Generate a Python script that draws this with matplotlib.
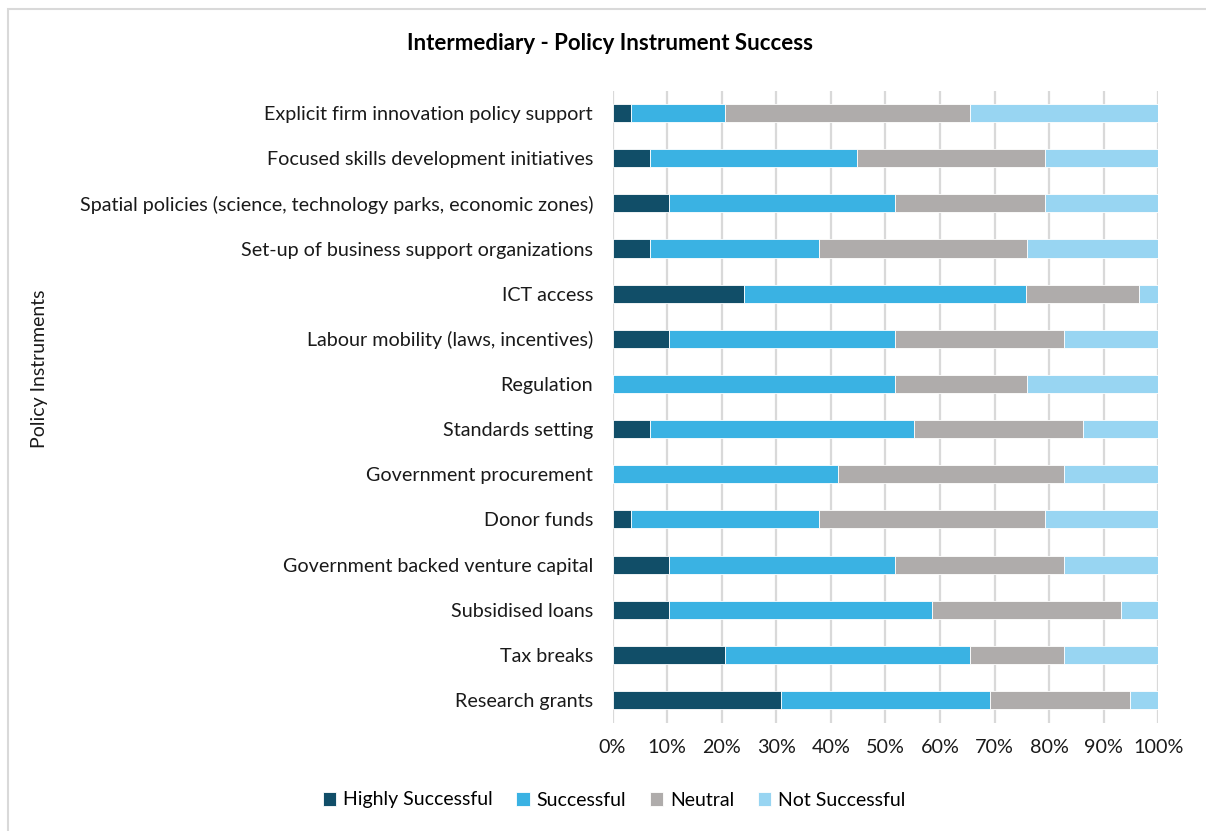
import matplotlib
matplotlib.use("Agg")
import matplotlib.pyplot as plt
from matplotlib.patches import Rectangle
from matplotlib.ticker import PercentFormatter
import numpy as np

plt.rcParams['font.family'] = ['Lato', 'DejaVu Sans']

# Categories listed bottom to top
instruments = [
    "Research grants",
    "Tax breaks",
    "Subsidised loans",
    "Government backed venture capital",
    "Donor funds",
    "Government procurement",
    "Standards setting",
    "Regulation",
    "Labour mobility (laws, incentives)",
    "ICT access",
    "Set-up of business support organizations",
    "Spatial policies (science, technology parks, economic zones)",
    "Focused skills development initiatives",
    "Explicit firm innovation policy support",
]

# Share of responses (%) per instrument, same order as above
highly_successful = [30.8, 20.7, 10.3, 10.3, 3.4, 0.0, 6.9, 0.0, 10.3, 24.1, 6.9, 10.3, 6.9, 3.4]
successful        = [38.4, 44.8, 48.3, 41.4, 34.5, 41.4, 48.3, 51.7, 41.4, 51.7, 31.0, 41.4, 37.9, 17.3]
neutral           = [25.7, 17.3, 34.5, 31.0, 41.4, 41.4, 31.0, 24.2, 31.0, 20.7, 38.0, 27.6, 34.5, 44.8]
not_successful    = [5.1, 17.2, 6.9, 17.2, 20.7, 17.2, 13.8, 24.1, 17.3, 3.5, 24.1, 20.7, 20.7, 34.5]

series = [
    ("Highly Successful", highly_successful, "#114e68"),
    ("Successful", successful, "#3ab2e3"),
    ("Neutral", neutral, "#afacab"),
    ("Not Successful", not_successful, "#98d5f2"),
]

fig = plt.figure(figsize=(12.06, 8.31), dpi=100)
ax = fig.add_axes([612.5 / 1206, 1 - 722.6 / 831, (1158.3 - 612.5) / 1206, (722.6 - 90.5) / 831])

y = np.arange(len(instruments))
left = np.zeros(len(instruments))
for name, vals, color in series:
    vals = np.array(vals, dtype=float)
    ax.barh(y, vals, left=left, height=0.4, color=color, label=name,
            edgecolor="white", linewidth=0.6, zorder=3)
    left += vals

ax.set_xlim(0, 100)
ax.set_ylim(-0.5, len(instruments) - 0.5)
ax.set_xticks(np.arange(0, 101, 10))
ax.xaxis.set_major_formatter(PercentFormatter(100, decimals=0))
ax.set_yticks(y)
ax.set_yticklabels(instruments)
ax.tick_params(axis="both", length=0, labelsize=14.2, colors="#000000", labelcolor="#1a1a1a")
ax.tick_params(axis="y", pad=14)
ax.tick_params(axis="x", pad=12)
ax.grid(axis="x", color="#d9d9d9", linewidth=1.6, zorder=0)
for s in ax.spines.values():
    s.set_visible(False)

fig.text(610 / 1206, 1 - 44 / 831, "Intermediary - Policy Instrument Success",
         ha="center", va="center", fontsize=16, fontweight="bold", color="#000000")
fig.text(40 / 1206, 1 - 369 / 831, "Policy Instruments", rotation=90,
         ha="center", va="center", fontsize=14, color="#1a1a1a")

handles, labels = ax.get_legend_handles_labels()
fig.legend(handles, labels, loc="center", bbox_to_anchor=(614 / 1206, 1 - 800 / 831),
           ncol=4, frameon=False, fontsize=14, handlelength=0.7, handleheight=0.7,
           handletextpad=0.35, columnspacing=1.2)

# light chart-area border
fig.patches.append(Rectangle((7.5 / 1206, -0.1), 1.2, 1.1 - 8.5 / 831,
                             transform=fig.transFigure, fill=False,
                             edgecolor="#d9d9d9", linewidth=1.5))

fig.savefig("out.png", dpi=100, facecolor="white")
